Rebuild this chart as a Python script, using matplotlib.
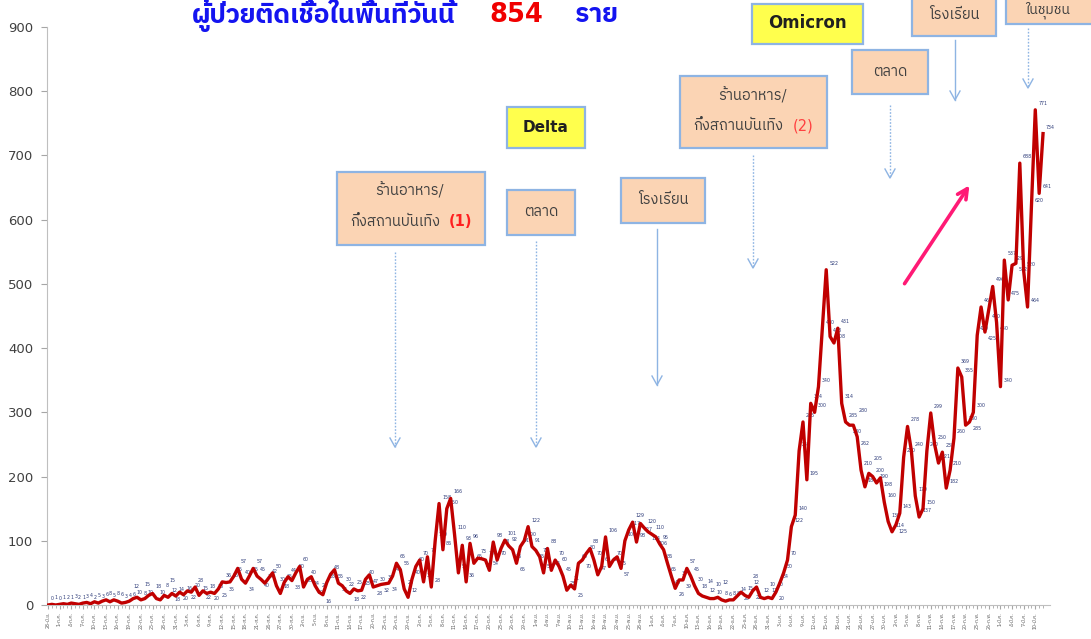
import matplotlib
matplotlib.use("Agg")
import matplotlib.pyplot as plt
from matplotlib import font_manager
from matplotlib.ft2font import FT2Font
from matplotlib.patches import Rectangle, FancyArrowPatch
from matplotlib.lines import Line2D
import datetime as dt

# ---------------- data ----------------
start_date = dt.date(2021, 6, 28)
cases = [
    0, 1, 0, 1, 2, 1, 3, 2, 1, 3,
    4, 2, 5, 3, 6, 8, 5, 8, 6, 3,
    4, 6, 10, 12, 8, 10, 15, 18, 10, 8,
    15, 12, 18, 14, 20, 16, 22, 20, 28, 15,
    22, 18, 20, 18, 25, 36, 35, 36, 45, 57,
    40, 34, 45, 57, 45, 40, 34, 42, 50, 30,
    18, 35, 44, 38, 50, 60, 28, 40, 44, 30,
    20, 16, 35, 48, 55, 34, 30, 22, 18, 25,
    22, 23, 40, 47, 28, 30, 32, 33, 34, 45,
    65, 55, 25, 12, 40, 60, 70, 36, 75, 28,
    100, 158, 86, 150, 166, 110, 50, 93, 36, 96,
    65, 73, 72, 70, 54, 98, 70, 88, 101, 92,
    86, 65, 91, 100, 122, 91, 85, 75, 50, 88,
    54, 70, 60, 45, 23, 31, 25, 65, 70, 80,
    88, 70, 47, 60, 106, 60, 70, 75, 57, 100,
    117, 129, 98, 127, 120, 114, 110, 106, 95, 86,
    65, 45, 26, 39, 39, 57, 45, 30, 18, 14,
    12, 10, 10, 12, 8, 6, 8, 8, 14, 20,
    15, 12, 22, 28, 12, 10, 12, 10, 20, 34,
    50, 70, 122, 140, 240, 285, 195, 314, 300, 340,
    430, 522, 418, 408, 431, 314, 285, 280, 280, 262,
    210, 184, 205, 200, 190, 198, 160, 130, 114, 125,
    143, 230, 278, 240, 170, 137, 150, 240, 299, 250,
    221, 238, 182, 210, 260, 369, 355, 280, 285, 300,
    420, 464, 425, 460, 496, 440, 340, 537, 475, 529,
    532, 688, 520, 464, 620, 771, 641, 734,
]
thai_months = ["ม.ค.", "ก.พ.", "มี.ค.", "เม.ย.", "พ.ค.", "มิ.ย.",
               "ก.ค.", "ส.ค.", "ก.ย.", "ต.ค.", "พ.ย.", "ธ.ค."]
title_main = "ผู้ป่วยติดเชื้อในพื้นที่วันนี้"
title_num = "854"
title_unit = "ราย"
y_ticks = [0, 100, 200, 300, 400, 500, 600, 700, 800, 900]

dates = [start_date + dt.timedelta(days=k) for k in range(len(cases))]
date_labels = [f"{d.day}-{thai_months[d.month - 1]}" for d in dates]

# ---------------- fonts ----------------
def find_thai_fonts():
    found = []
    seen = set()
    for f in font_manager.fontManager.ttflist:
        if f.name in seen:
            continue
        try:
            cm = FT2Font(f.fname).get_charmap()
        except Exception:
            continue
        if 0x0E1C in cm and 0x0E35 in cm and 0x0E49 in cm:
            found.append(f.name)
            seen.add(f.name)
    def score(n):
        n2 = n.lower()
        s = 0
        if "sans" in n2: s -= 2
        if "looped" in n2: s += 1
        if "ui" in n2: s += 0.5
        return s
    found.sort(key=score)
    return found

thai = find_thai_fonts()
FAM = thai[:1] + ["DejaVu Sans"]
plt.rcParams["font.family"] = FAM

W, H = 1091, 639
fig = plt.figure(figsize=(W / 100, H / 100), dpi=100)

def fx(x):
    return x / W

def fy(y):
    return 1 - y / H

AX_L, AX_R, AX_T, AX_B = 47, 1050, 27, 605
XMIN, XMAX = -0.26, 258.8
ax = fig.add_axes([fx(AX_L), fy(AX_B), fx(AX_R) - fx(AX_L), fy(AX_T) - fy(AX_B)])
n = len(cases)
xs = list(range(n))
ax.plot(xs, cases, color="#C00000", lw=2.4, solid_joinstyle="round", zorder=3)
ax.set_xlim(XMIN, XMAX)
ax.set_ylim(0, 900)
ax.set_yticks(y_ticks)
ax.set_yticklabels([str(t) for t in y_ticks], fontsize=9.5, color="#404040",
                   family="DejaVu Sans")
ax.set_xticks(xs[::3])
ax.set_xticklabels(date_labels[::3], rotation=90, fontsize=3.6, color="#595959")
ax.set_xticks(xs, minor=True)
ax.tick_params(axis="x", which="major", length=3, color="#A6A6A6", pad=2)
ax.tick_params(axis="x", which="minor", length=2, color="#A6A6A6")
ax.tick_params(axis="y", length=4, color="#A6A6A6", pad=6)
for s in ["top", "right"]:
    ax.spines[s].set_visible(False)
ax.spines["left"].set_color("#BFBFBF")
ax.spines["bottom"].set_color("#BFBFBF")

# ---------------- data labels (greedy, non-overlapping) ----------------
sx = (AX_R - AX_L) / (XMAX - XMIN)
sy = (AX_B - AX_T) / 900.0

def to_px(i, v):
    return AX_L + (i - XMIN) * sx, AX_B - v * sy

def to_data(px, py):
    return XMIN + (px - AX_L) / sx, (AX_B - py) / sy

placed = []
cands = [(3, -9), (3, 4), (-4, -13), (5, -17), (3, 11), (-12, 4),
         (7, -24), (5, 18), (-14, -9), (10, -30), (8, 25), (12, -36), (10, 32)]
LFS = 3.4
ch_w, ch_h = 2.5, 5.0
for i, v in enumerate(cases):
    px, py = to_px(i, v)
    lab = str(v)
    w = ch_w * len(lab) + 0.8
    best = None
    for dx, dy in cands:
        x0, y0 = px + dx, py + dy
        box_ = (x0, y0, x0 + w, y0 + ch_h)
        if box_[3] > AX_B - 1 or box_[1] < AX_T:
            continue
        ok = True
        for b in placed:
            if not (box_[2] < b[0] or box_[0] > b[2] or box_[3] < b[1] or box_[1] > b[3]):
                ok = False
                break
        if ok:
            best = box_
            break
    if best is None:
        continue
    placed.append(best)
    tx, ty = to_data(best[0], best[3])
    ax.text(tx, ty, lab, fontsize=LFS, color="#2F3D7A", family="DejaVu Sans",
            ha="left", va="bottom", zorder=2)

# ---------------- title ----------------
fig.text(fx(192), fy(15), title_main, fontsize=19, fontweight="bold",
         color="#1414F0", ha="left", va="center")
fig.text(fx(516), fy(15), title_num, fontsize=18.5, fontweight="bold",
         color="#F00000", ha="center", va="center", family="DejaVu Sans")
fig.text(fx(597), fy(15), title_unit, fontsize=19, fontweight="bold",
         color="#1414F0", ha="center", va="center")

# ---------------- annotation boxes ----------------
PEACH = "#FBD4B4"
EDGE = "#8EB4E3"
YELLOW = "#FFFF4D"
ARROW = "#8EB4E3"

def box(x0, y0, x1, y1, fc):
    r = Rectangle((fx(x0), fy(y1)), fx(x1) - fx(x0), fy(y0) - fy(y1),
                  transform=fig.transFigure, facecolor=fc, edgecolor=EDGE,
                  lw=1.6, zorder=5)
    fig.add_artist(r)

def down_arrow(x, y0, y1, dotted=True):
    ls = (0, (1.2, 1.2)) if dotted else "-"
    fig.add_artist(Line2D([fx(x), fx(x)], [fy(y0), fy(y1)], color=ARROW,
                          lw=1.0, ls=ls, transform=fig.transFigure, zorder=5))
    fig.add_artist(Line2D([fx(x - 5), fx(x), fx(x + 5)],
                          [fy(y1 - 9), fy(y1), fy(y1 - 9)], color=ARROW,
                          lw=1.0, transform=fig.transFigure, zorder=5))

TXT = "#404040"
# restaurant (1)
box(337, 172, 485, 245, PEACH)
fig.text(fx(410), fy(190), "ร้านอาหาร/", fontsize=10.5, color=TXT,
         ha="center", va="center", zorder=6)
fig.text(fx(395), fy(222), "กึ่งสถานบันเทิง", fontsize=10.5, color=TXT,
         ha="center", va="center", zorder=6)
fig.text(fx(460), fy(222), "(1)", fontsize=10.5, color="#FF2020", fontweight="bold",
         ha="center", va="center", zorder=6, family="DejaVu Sans")
down_arrow(395, 252, 447)

# market 1
box(507, 190, 575, 235, PEACH)
fig.text(fx(541), fy(212), "ตลาด", fontsize=10.5, color=TXT,
         ha="center", va="center", zorder=6)
down_arrow(536, 241, 447)

# Delta
box(507, 107, 585, 148, YELLOW)
fig.text(fx(546), fy(127), "Delta", fontsize=11, color="#202020", fontweight="bold",
         ha="center", va="center", zorder=6, family="DejaVu Sans")

# school 1
box(621, 178, 705, 223, PEACH)
fig.text(fx(663), fy(200), "โรงเรียน", fontsize=10.5, color=TXT,
         ha="center", va="center", zorder=6)
down_arrow(657, 229, 385, dotted=False)

# restaurant (2)
box(680, 76, 827, 148, PEACH)
fig.text(fx(753), fy(95), "ร้านอาหาร/", fontsize=10.5, color=TXT,
         ha="center", va="center", zorder=6)
fig.text(fx(738), fy(126), "กึ่งสถานบันเทิง", fontsize=10.5, color=TXT,
         ha="center", va="center", zorder=6)
fig.text(fx(803), fy(126), "(2)", fontsize=10.5, color="#FF4040",
         ha="center", va="center", zorder=6, family="DejaVu Sans")
down_arrow(753, 155, 268)

# Omicron
box(752, 4, 863, 44, YELLOW)
fig.text(fx(807), fy(23), "Omicron", fontsize=12, color="#202020", fontweight="bold",
         ha="center", va="center", zorder=6, family="DejaVu Sans")

# market 2
box(852, 50, 928, 94, PEACH)
fig.text(fx(890), fy(72), "ตลาด", fontsize=10.5, color=TXT,
         ha="center", va="center", zorder=6)
down_arrow(890, 105, 178)

# school 2
box(912, -10, 996, 36, PEACH)
fig.text(fx(954), fy(15), "โรงเรียน", fontsize=10.5, color=TXT,
         ha="center", va="center", zorder=6)
down_arrow(955, 40, 100, dotted=False)

# community
box(1006, -20, 1100, 24, PEACH)
fig.text(fx(1048), fy(10), "ในชุมชน", fontsize=10, color=TXT,
         ha="center", va="center", zorder=6)
down_arrow(1028, 28, 88)

# pink trend arrow
fig.add_artist(FancyArrowPatch((fx(903), fy(286)), (fx(971), fy(183)),
                               transform=fig.transFigure, arrowstyle="->",
                               mutation_scale=18, color="#FF1A75", lw=2.6,
                               zorder=6))

fig.savefig("out.png", dpi=100)
